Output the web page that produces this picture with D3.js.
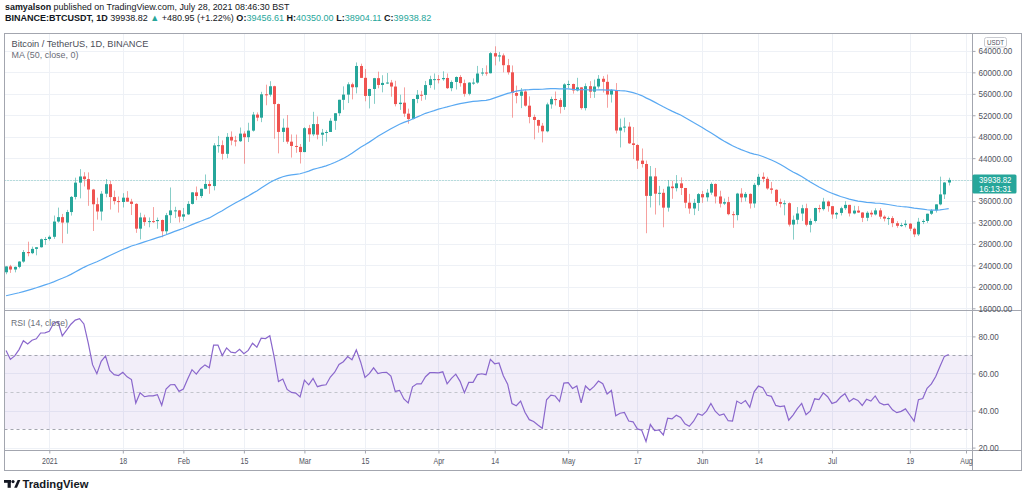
<!DOCTYPE html>
<html><head><meta charset="utf-8">
<script src="https://cdn.jsdelivr.net/npm/d3@7/dist/d3.min.js"></script>
<style>html,body{margin:0;padding:0;background:#fff;}svg{display:block;}</style>
</head><body>
<svg id="chart" width="1024" height="497"></svg>
<script>
// ---------------- DATA (BINANCE:BTCUSDT, 1D) ----------------
const firstDate = "2020-12-22";
const opens = [
22719,23810,23233,23729,24712,26493,26281,27079,27385,28876,
28923,29331,32176,33000,31989,33949,36769,39433,40586,40088,38150,35410,34049,37371,39145,36737,35994,35824,36622,35901,35468,30851,32950,32078,32259,32255,32464,30363,33368,34246,34262,
33093,33518,35467,37618,36936,38289,39181,38795,46374,46420,44807,47969,47298,47156,48581,47911,49133,52117,51550,55906,55842,57413,54087,48892,49676,47073,46277,46103,
45134,49595,48437,50349,48374,48746,48883,50972,52376,54874,55851,57773,57221,61188,58976,55606,56900,58913,57641,58030,58100,57351,54083,54342,52303,51293,55025,55817,55782,57628,58731,
58736,58720,58950,57052,58202,59129,57991,55999,58088,58092,59778,59964,59836,63576,62959,63158,61334,60006,56150,55634,56425,53787,51690,51111,50047,49004,54030,55033,54825,53556,
57750,57829,56632,57200,53333,57425,56397,57357,58803,58232,55860,56705,49150,49717,49880,46760,46457,43538,42910,36967,40597,37371,37536,34770,38706,38403,39295,38437,35697,34608,35658,
37293,36694,37568,39188,36856,35521,35800,33556,33381,37388,36677,37331,35546,39020,40516,40143,38349,38098,35820,35483,35600,31614,32510,33675,34663,31576,32283,34702,34494,35911,
35045,33502,33786,34669,35288,33690,34220,33863,32876,33815,33502,34259,33086,32729,32820,31874,31384,31521,31778,30839,29790,32144,32287,33634,34262,35381,37242,39456.61];
const highs = [
23838,24100,23789,24789,26867,28422,27500,27410,28999,29300,
29600,33300,34778,33600,34360,36939,40365,41950,41380,41350,38264,36628,37850,40100,39747,37950,36852,37469,37850,36415,35600,33826,33456,32944,34875,32922,32557,33783,38531,34934,34342,
34717,35984,37662,38708,38310,40955,39700,46794,48142,47310,48678,48985,48150,49707,49010,50600,52618,52530,56368,57700,58352,57508,54183,51374,52041,48424,48394,46638,
49790,50200,52640,51773,49448,49200,51450,52402,54895,57387,58150,58081,61844,61616,60633,56938,58974,60129,59468,59880,58589,58430,55830,57200,53238,55073,56700,56559,58400,59368,59800,
59490,60200,59791,58500,59251,59474,58650,58153,58869,61200,60800,61300,63778,64854,63800,63520,62506,61287,57526,57076,56757,55521,52130,51179,50567,54356,55466,56428,55196,57964,
58458,57900,58981,57220,57939,58360,58650,59500,59300,59595,56862,58000,51367,51560,50700,49800,46600,45800,43546,42536,42172,38832,38270,39920,39791,40841,40411,38437,37338,36400,37499,
37896,38225,39476,39289,37925,36480,36790,34068,37534,38399,37680,37437,39380,41064,41330,40527,39560,38200,36457,36137,35750,33298,34881,35298,35500,32730,34749,35297,36600,36100,
35057,33977,34945,35967,35293,35118,35059,33929,34100,34262,34666,34679,33340,33114,33185,32249,31949,32435,31899,31063,32858,32591,33650,34500,35398,40550,39542,40350];
const lows = [
22350,22600,22703,23463,24500,25700,26101,25880,27320,27850,
28624,28946,31962,28130,29900,33288,36300,36500,38720,35111,30420,32531,32380,36701,34408,35357,33850,34800,35844,33400,30071,28850,31390,31106,31910,30837,29241,29842,31915,32825,32000,
32297,33418,35362,36161,36570,38215,37351,37988,45020,43727,43994,46400,46202,47014,42960,47003,48947,50901,50710,53863,55477,47622,44892,47003,46674,44106,45000,43000,
45115,47047,48100,47500,46300,47070,48882,49274,51850,53005,54272,54962,56078,58966,54600,53271,54123,57024,56270,57820,55450,53650,53000,51700,50427,51225,54250,54691,54899,57072,56769,
57935,58428,56900,56478,56800,57333,55473,55700,57670,57875,59360,59365,59800,61301,62020,60000,59580,51541,54221,53329,53605,50500,47500,48753,46930,48817,53222,53813,52330,53013,
57052,56035,56436,53046,52900,55200,55241,56975,56235,53400,54370,48600,46000,48817,46650,43825,42001,42250,30000,34800,33488,35200,31111,34031,36419,37800,37134,34684,33633,33379,34153,
35667,35920,37170,35555,34800,35256,33350,31000,32396,35782,35936,34600,34757,38731,39506,38116,37365,35129,34803,33336,31251,28805,31683,32286,31275,30151,32000,33862,34225,34017,
32711,32699,33316,34357,33125,33532,33777,32077,32261,33004,33306,32658,32202,31550,31133,31020,31179,31108,30407,29278,29482,31708,31924,33401,33851,35205,36383,38904.11];
const closes = [
23810,23232,23729,24712,26493,26281,27079,27385,28875,28923,
29331,32178,33000,31988,33949,36769,39432,40582,40088,38150,35404,34051,37371,39144,36742,35994,35828,36631,35891,35468,30850,32945,32078,32260,32254,32468,30366,33365,34252,34262,33092,
33526,35466,37619,36936,38290,39186,38796,46374,46420,44807,47969,47287,47153,48577,47911,49133,52119,51552,55906,55841,57408,54087,48891,49676,47073,46276,46106,45135,
49587,48440,50350,48374,48751,48882,50971,52375,54884,55851,57773,57221,61188,58968,55605,56900,58912,57648,58030,58102,57352,54083,54340,52303,51293,55025,55817,55777,57628,58730,58736,
58720,58950,57051,58202,59129,57991,56000,58088,58089,59778,59964,59835,63576,62959,63159,61334,60006,56150,55633,56425,53787,51690,51125,50047,49004,54022,55034,54825,53556,57750,
57828,56632,57200,53333,57425,56397,57357,58803,58233,55859,56704,49150,49717,49880,46760,46457,43538,42910,36964,40597,37371,37536,34770,38706,38403,39295,38437,35696,34608,35658,37294,
36687,37555,39187,36856,35520,35797,33552,33381,37389,36675,37331,35546,39020,40516,40144,38349,38092,35819,35483,35600,31608,32509,33678,34663,31584,32283,34700,34494,35911,35045,
33504,33786,34669,35286,33691,34220,33862,32875,33815,33502,34259,33086,32729,32820,31880,31384,31521,31778,30839,29790,32144,32287,33634,34258,35381,37237,39457.87,39938.82];
// closes before the visible range (2020-10-01 .. 2020-12-21), needed by MA(50) and RSI(14)
const priorCloses = [
10620,10570,10550,10670,10790,10600,10670,10920,11060,11300,11380,11540,11430,11430,11500,11320,11370,11510,11750,11920,12800,12970,12930,13130,13030,13070,13650,13280,13460,13560,13800,
13760,13550,14030,14160,15590,15590,14840,15480,15330,15310,15700,16280,16320,16070,15960,16730,17660,17800,17820,18680,18700,18430,18370,19160,18730,17150,17140,17720,18180,19700,
18770,19210,19420,18650,19150,19360,19170,18320,18550,18250,18040,18800,19170,19270,19430,21340,22800,23110,23820,23450,22720];
const priceGridLevels = [64000,60000,56000,52000,48000,44000,40000,36000,32000,28000,24000,20000,16000];
const priceTickLabels = [64000,60000,56000,52000,48000,44000,36000,32000,28000,24000,20000,16000]; // 40000 hidden under last-price tag
const rsiTicks = [80,60,40,20];
const rsiBandLevels = [70,50,30];
const xTickDates = ["2021-01-01","2021-01-18","2021-02-01","2021-02-15","2021-03-01","2021-03-15","2021-04-01","2021-04-14","2021-05-01","2021-05-17","2021-06-01","2021-06-14","2021-07-01","2021-07-19","2021-08-01"];
const xTickLabels = ["2021","18","Feb","15","Mar","15","Apr","14","May","17","Jun","14","Jul","19","Aug"];
const lastPrice = 39938.82;
const countdown = "16:13:31";
const maLength = 50, rsiLength = 14;

// ---------------- CHART ----------------
const FONT = "'Liberation Sans', Arial, sans-serif";
const UP = "#26a69a", DOWN = "#ef5350", GRID = "#eef1f6", FRAME = "#a3a6af", AXT = "#50535e";
const svg = d3.select("#chart");
const L = 4.5, R = 972.5, RR = 1021.5, T = 33.5, P1 = 310.5, P2 = 450.5, B = 470.5;
const parse = d3.utcParse("%Y-%m-%d");
const d0 = parse(firstDate);
const bars = closes.map((c, i) => ({date: d3.utcDay.offset(d0, i), o: opens[i], h: highs[i], l: lows[i], c}));

// indicators derived from the closes (as the platform computes them)
const all = priorCloses.concat(closes);
const off = priorCloses.length;
bars.forEach((b, i) => { const k = off + i; b.ma = d3.mean(all.slice(k - maLength + 1, k + 1)); });
let ag = 0, al = 0; const rsiAll = [];
for (let k = 1; k < all.length; k++) {
  const ch = all[k] - all[k - 1], g = Math.max(ch, 0), l = Math.max(-ch, 0);
  if (k <= rsiLength) { ag += g / rsiLength; al += l / rsiLength; }
  else { ag = (ag * (rsiLength - 1) + g) / rsiLength; al = (al * (rsiLength - 1) + l) / rsiLength; }
  rsiAll[k] = k >= rsiLength ? (al === 0 ? 100 : 100 - 100 / (1 + ag / al)) : null;
}
bars.forEach((b, i) => b.rsi = rsiAll[off + i]);

const x = d3.scaleUtc().domain([parse("2021-01-01"), parse("2021-08-01")]).range([49.3, 966]);
const y = d3.scaleLinear().domain([16000, 64000]).range([308.3, 50.9]);
const yr = d3.scaleLinear().domain([20, 80]).range([447.6, 336.4]);
const px = v => Math.round(v) + 0.5;

const defs = svg.append("defs");
defs.append("clipPath").attr("id", "c1").append("rect").attr("x", L).attr("y", T).attr("width", R - L).attr("height", P1 - T);
defs.append("clipPath").attr("id", "c2").append("rect").attr("x", L).attr("y", P1).attr("width", R - L).attr("height", P2 - P1);

// grid
const grid = svg.append("g").attr("stroke", GRID).attr("stroke-width", 1);
grid.selectAll("line.v").data(xTickDates.map(parse)).join("line")
  .attr("x1", d => px(x(d))).attr("x2", d => px(x(d))).attr("y1", T).attr("y2", P2);
grid.selectAll("line.hp").data(priceGridLevels).join("line")
  .attr("x1", L).attr("x2", R).attr("y1", d => px(y(d))).attr("y2", d => px(y(d)));
grid.selectAll("line.hr").data(rsiTicks).join("line")
  .attr("x1", L).attr("x2", R).attr("y1", d => px(yr(d))).attr("y2", d => px(yr(d)));

// price pane
const g1 = svg.append("g").attr("clip-path", "url(#c1)");
g1.append("line").attr("x1", L).attr("x2", R).attr("y1", px(y(lastPrice))).attr("y2", px(y(lastPrice)))
  .attr("stroke", UP).attr("stroke-opacity", 0.55).attr("stroke-dasharray", "1,2");
g1.selectAll("line.wick").data(bars).join("line")
  .attr("x1", d => Math.round(x(d.date)) + 0.5).attr("x2", d => Math.round(x(d.date)) + 0.5)
  .attr("y1", d => y(d.h)).attr("y2", d => y(d.l))
  .attr("stroke", d => d.c >= d.o ? UP : DOWN).attr("stroke-opacity", 0.55).attr("stroke-width", 1);
g1.selectAll("rect.body").data(bars).join("rect")
  .attr("x", d => Math.round(x(d.date)) - 1).attr("width", 3)
  .attr("y", d => y(Math.max(d.o, d.c))).attr("height", d => Math.max(1, Math.abs(y(d.o) - y(d.c))))
  .attr("fill", d => d.c >= d.o ? UP : DOWN);
g1.append("path").datum(bars).attr("fill", "none").attr("stroke", "#5aa9f2").attr("stroke-width", 1.2)
  .attr("d", d3.line().x(d => x(d.date)).y(d => y(d.ma)));

// rsi pane
const g2 = svg.append("g").attr("clip-path", "url(#c2)");
g2.append("rect").attr("x", L).attr("width", R - L).attr("y", yr(rsiBandLevels[0])).attr("height", yr(rsiBandLevels[2]) - yr(rsiBandLevels[0]))
  .attr("fill", "rgba(126,87,194,0.1)");
g2.selectAll("line.band").data(rsiBandLevels).join("line")
  .attr("x1", L).attr("x2", R).attr("y1", d => px(yr(d))).attr("y2", d => px(yr(d)))
  .attr("stroke", (d, i) => i === 1 ? "#c3c5cc" : "#a4a6b0").attr("stroke-dasharray", "3,3");
g2.append("path").datum(bars).attr("fill", "none").attr("stroke", "#8a67cc").attr("stroke-width", 1.2)
  .attr("d", d3.line().x(d => x(d.date)).y(d => yr(d.rsi)));

// frame
const fr = svg.append("g").attr("stroke", FRAME).attr("fill", "none");
fr.append("rect").attr("x", L).attr("y", T).attr("width", RR - L).attr("height", B - T);
fr.append("line").attr("x1", L).attr("x2", RR).attr("y1", P1).attr("y2", P1);
fr.append("line").attr("x1", L).attr("x2", RR).attr("y1", P2).attr("y2", P2);
fr.append("line").attr("x1", R).attr("x2", R).attr("y1", T).attr("y2", B);

function styleAxis(g, k) {
  g.select(".domain").remove();
  g.selectAll("line").attr("stroke", FRAME);
  g.selectAll("text").attr("fill", AXT).attr("font-family", FONT).attr("font-size", 9)
    .each(function () {
      const s = d3.select(this), ax = +s.attr("x") || 0;
      s.attr("transform", `translate(${ax},0) scale(${k},1) translate(${-ax},0)`);
    });
}
const ay = svg.append("g").attr("transform", `translate(${R},0)`)
  .call(d3.axisRight(y).tickValues(priceTickLabels).tickSize(3).tickPadding(3).tickFormat(d => d.toFixed(2)));
styleAxis(ay, 0.9);
const ar = svg.append("g").attr("transform", `translate(${R},0)`)
  .call(d3.axisRight(yr).tickValues(rsiTicks).tickSize(3).tickPadding(3).tickFormat(d => d.toFixed(2)));
styleAxis(ar, 0.9);
const axx = svg.append("g").attr("transform", `translate(0,${P2})`)
  .call(d3.axisBottom(x).tickValues(xTickDates.map(parse)).tickSize(3).tickPadding(4).tickFormat((d, i) => xTickLabels[i]));
styleAxis(axx, 0.78);

function label(x0, y0, parts, opt) {
  const t = svg.append("text").attr("font-family", FONT).attr("font-size", opt.size).style("white-space", "pre");
  parts.forEach(p => t.append("tspan").text(p[0]).attr("fill", p[1] || opt.fill || "#131722").attr("font-weight", p[2] ? "bold" : "normal"));
  const w = t.node().getComputedTextLength();
  const k = opt.width ? opt.width / w : 1;
  t.attr("transform", `translate(${x0},${y0}) scale(${k},1)`);
  return t;
}

// last price tag
const ly = y(lastPrice);
svg.append("rect").attr("x", R).attr("y", ly - 5.5).attr("width", 44).attr("height", 19).attr("fill", UP).attr("rx", 1.5);
label(979, ly + 2.8, [[lastPrice.toFixed(2), "#fff"]], {size: 8.5, width: 32.5});
label(979, ly + 11.6, [[countdown, "#fff"]], {size: 8.5, width: 32.5});

// currency box
svg.append("rect").attr("x", 984.5).attr("y", 37.5).attr("width", 22).attr("height", 9.5).attr("rx", 2)
  .attr("fill", "#fff").attr("stroke", "#c8cad0");
label(987, 45, [["USDT", "#50535e"]], {size: 7.5, width: 17});

// headers & legends
label(5, 9.5, [["samyalson", null, true], [" published on TradingView.com, July 28, 2021 08:46:30 BST"]], {size: 9, width: 285});
label(5, 21, [["BINANCE:BTCUSDT, 1D", null, true], [" 39938.82 "], ["▲", UP], [" +480.95 (+1.22%) "],
  ["O:", null, true], ["39456.61", UP], [" H:", null, true], ["40350.00", UP], [" L:", null, true], ["38904.11", UP],
  [" C:", null, true], ["39938.82", UP]], {size: 9.5, width: 427});
label(11.5, 46.7, [["Bitcoin / TetherUS, 1D, BINANCE", "#4a4d57"]], {size: 9.5, width: 137});
label(11.5, 57.5, [["MA (50, close, 0)", "#6a6d78"]], {size: 9.5, width: 67});
label(11, 325.7, [["RSI (14, close)", "#6a6d78"]], {size: 9.5, width: 57});

// TradingView logo
const logo = svg.append("g").attr("fill", "#131722");
logo.append("rect").attr("x", 4).attr("y", 480).attr("width", 7).attr("height", 2.8);
logo.append("rect").attr("x", 7.6).attr("y", 480).attr("width", 3.2).attr("height", 7.8);
logo.append("circle").attr("cx", 13).attr("cy", 481.6).attr("r", 1.6);
logo.append("path").attr("d", "M14.2,487.8 L17.6,480 L20.4,480 L17,487.8 Z");
label(22.5, 487.8, [["TradingView", "#131722", true]], {size: 11.5, width: 66});
</script>
</body></html>
